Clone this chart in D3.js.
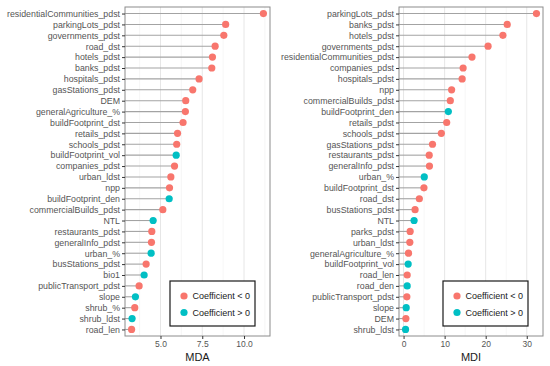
<!DOCTYPE html>
<html>
<head>
<meta charset="utf-8">
<script src="https://cdnjs.cloudflare.com/ajax/libs/d3/7.8.5/d3.min.js"></script>
<style>
  body { margin: 0; background: #fff; }
  text { font-family: "Liberation Sans", Arial, sans-serif; }
</style>
</head>
<body>
<div id="chart"></div>
<script>
// MDA panel (sign: 0 = coefficient < 0, 1 = coefficient > 0)
var mdaVars = ['residentialCommunities_pdst', 'parkingLots_pdst', 'governments_pdst', 'road_dst', 'hotels_pdst',
    'banks_pdst', 'hospitals_pdst', 'gasStations_pdst', 'DEM', 'generalAgriculture_%', 'buildFootprint_dst',
    'retails_pdst', 'schools_pdst', 'buildFootprint_vol', 'companies_pdst', 'urban_ldst', 'npp',
    'buildFootprint_den', 'commercialBuilds_pdst', 'NTL', 'restaurants_pdst', 'generalInfo_pdst', 'urban_%',
    'busStations_pdst', 'bio1', 'publicTransport_pdst', 'slope', 'shrub_%', 'shrub_ldst', 'road_len']
var mdaValues = [11.16, 8.9, 8.79, 8.27, 8.11, 8.07, 7.31, 6.93, 6.51, 6.49, 6.35, 6.02, 5.97, 5.94, 5.84,
    5.62, 5.54, 5.52, 5.14, 4.56, 4.48, 4.46, 4.44, 4.14, 4.02, 3.72, 3.5, 3.46, 3.3, 3.27]
var mdaSign = [0, 0, 0, 0, 0, 0, 0, 0, 0, 0, 0, 0, 0, 1, 0, 0, 0, 1, 0, 1, 0, 0, 1, 0, 1, 0, 1, 0, 1, 0]
var mdaTicks = [5, 7.5, 10]
var mdaMinor = [3.75, 6.25, 8.75, 11.25]

// MDI panel
var mdiVars = ['parkingLots_pdst', 'banks_pdst', 'hotels_pdst', 'governments_pdst', 'residentialCommunities_pdst',
    'companies_pdst', 'hospitals_pdst', 'npp', 'commercialBuilds_pdst', 'buildFootprint_den', 'retails_pdst',
    'schools_pdst', 'gasStations_pdst', 'restaurants_pdst', 'generalInfo_pdst', 'urban_%', 'buildFootprint_dst',
    'road_dst', 'busStations_pdst', 'NTL', 'parks_pdst', 'urban_ldst', 'generalAgriculture_%',
    'buildFootprint_vol', 'road_len', 'road_den', 'publicTransport_pdst', 'slope', 'DEM', 'shrub_ldst']
var mdiValues = [32.36, 25.24, 24.19, 20.58, 16.66, 14.5, 14.26, 11.7, 11.38, 10.9, 10.5, 9.2, 7.04, 6.24, 6.3,
    5.04, 4.96, 3.84, 2.8, 2.56, 1.6, 1.52, 1.2, 1.12, 0.88, 0.88, 0.8, 0.64, 0.56, 0.48]
var mdiSign = [0, 0, 0, 0, 0, 0, 0, 0, 0, 1, 0, 0, 0, 0, 0, 1, 0, 0, 0, 1, 0, 0, 0, 1, 0, 1, 0, 1, 0, 1]
var mdiTicks = [0, 10, 20, 30]
var mdiMinor = [5, 15, 25]

var legendLabels = ['Coefficient < 0', 'Coefficient > 0']
var colors = ['#F8766D', '#00BFC4']

var width = 550, height = 366

var svg = d3.select('#chart')
    .append('svg')
    .attr('width', width)
    .attr('height', height)

function panel(opts) {
    var data = opts.vars.map(function(v, i) {
        return { name: v, value: opts.values[i], sign: opts.sign[i] }
    })

    var lo = d3.min(opts.values), hi = d3.max(opts.values)
    var pad = (hi - lo) * 0.05

    var x = d3.scaleLinear()
        .domain([lo - pad, hi + pad])
        .range([opts.left, opts.right])

    var y = d3.scalePoint()
        .domain(opts.vars)
        .range([opts.top, opts.bottom])
        .padding(0.6)

    var g = svg.append('g')

    // grid
    g.selectAll('.minor')
        .data(opts.minor)
        .enter().append('line')
        .attr('x1', function(d) { return x(d) })
        .attr('x2', function(d) { return x(d) })
        .attr('y1', opts.top)
        .attr('y2', opts.bottom)
        .attr('stroke', '#f0f0f0')
        .attr('stroke-width', 0.6)

    g.selectAll('.major')
        .data(opts.ticks)
        .enter().append('line')
        .attr('x1', function(d) { return x(d) })
        .attr('x2', function(d) { return x(d) })
        .attr('y1', opts.top)
        .attr('y2', opts.bottom)
        .attr('stroke', '#e6e6e6')
        .attr('stroke-width', 1)

    // stems
    g.selectAll('.stem')
        .data(data)
        .enter().append('line')
        .attr('x1', opts.left)
        .attr('x2', function(d) { return x(d.value) })
        .attr('y1', function(d) { return y(d.name) })
        .attr('y2', function(d) { return y(d.name) })
        .attr('stroke', '#a3a3a3')
        .attr('stroke-width', 1.1)

    g.selectAll('.dot')
        .data(data)
        .enter().append('circle')
        .attr('cx', function(d) { return x(d.value) })
        .attr('cy', function(d) { return y(d.name) })
        .attr('r', 3.6)
        .attr('fill', function(d) { return colors[d.sign] })

    // border
    g.append('rect')
        .attr('x', opts.left)
        .attr('y', opts.top)
        .attr('width', opts.right - opts.left)
        .attr('height', opts.bottom - opts.top)
        .attr('fill', 'none')
        .attr('stroke', '#8c8c8c')
        .attr('stroke-width', 1)

    // axes
    var yAxis = g.append('g')
        .attr('transform', 'translate(' + opts.left + ',0)')
        .call(d3.axisLeft(y).tickSize(3).tickPadding(2))
    yAxis.select('.domain').remove()
    yAxis.selectAll('line').attr('stroke', '#333')
    yAxis.selectAll('text')
        .attr('fill', '#555')
        .style('font-size', '8.8px')
        .style('font-family', '"Liberation Sans", Arial, sans-serif')

    var xAxis = g.append('g')
        .attr('transform', 'translate(0,' + opts.bottom + ')')
        .call(d3.axisBottom(x).tickValues(opts.ticks).tickSize(3).tickPadding(2)
            .tickFormat(opts.format))
    xAxis.select('.domain').remove()
    xAxis.selectAll('line').attr('stroke', '#333')
    xAxis.selectAll('text')
        .attr('fill', '#555')
        .style('font-size', '8.5px')
        .style('font-family', '"Liberation Sans", Arial, sans-serif')

    g.append('text')
        .attr('x', (opts.left + opts.right) / 2)
        .attr('y', 361)
        .attr('text-anchor', 'middle')
        .attr('fill', '#1a1a1a')
        .style('font-size', '11px')
        .text(opts.title)

    // legend
    var lg = g.append('g')
        .attr('transform', 'translate(' + opts.legendX + ',281)')
    lg.append('rect')
        .attr('width', 85)
        .attr('height', 45)
        .attr('fill', '#fff')
        .attr('stroke', '#1a1a1a')
        .attr('stroke-width', 1.2)
    lg.selectAll('.key')
        .data(legendLabels)
        .enter().append('circle')
        .attr('cx', 14)
        .attr('cy', function(d, i) { return 15 + i * 16.5 })
        .attr('r', 3.6)
        .attr('fill', function(d, i) { return colors[i] })
    lg.selectAll('.lab')
        .data(legendLabels)
        .enter().append('text')
        .attr('x', 22.5)
        .attr('y', function(d, i) { return 15 + i * 16.5 })
        .attr('dy', '0.35em')
        .attr('fill', '#1a1a1a')
        .style('font-size', '9px')
        .text(function(d) { return d })
}

panel({
    vars: mdaVars, values: mdaValues, sign: mdaSign, ticks: mdaTicks, minor: mdaMinor,
    left: 125, right: 270, top: 7, bottom: 336, title: 'MDA', legendX: 170,
    format: d3.format('.1f')
})

panel({
    vars: mdiVars, values: mdiValues, sign: mdiSign, ticks: mdiTicks, minor: mdiMinor,
    left: 399, right: 543, top: 7, bottom: 336, title: 'MDI', legendX: 443,
    format: d3.format('d')
})
</script>
</body>
</html>
